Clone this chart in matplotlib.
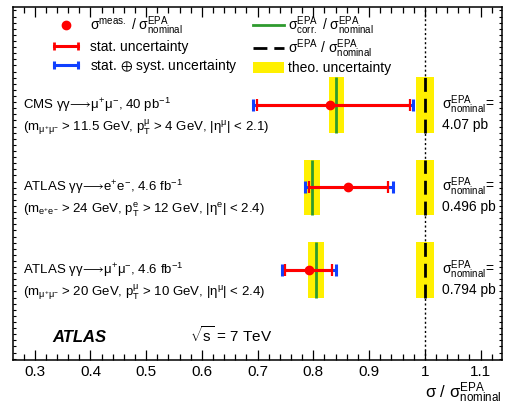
import matplotlib
matplotlib.use("Agg")
import matplotlib.pyplot as plt
from matplotlib.lines import Line2D
from matplotlib.patches import Patch
from matplotlib.legend_handler import HandlerLine2D
from matplotlib.ticker import MultipleLocator
import numpy as np

plt.rcParams['font.family'] = ['Liberation Sans', 'DejaVu Sans']
plt.rcParams['mathtext.fontset'] = 'custom'
plt.rcParams['mathtext.rm'] = 'Liberation Sans'
plt.rcParams['mathtext.it'] = 'Liberation Sans:italic'
plt.rcParams['mathtext.bf'] = 'Liberation Sans:bold'
plt.rcParams['mathtext.default'] = 'regular'

# rows, top to bottom
titles = [r'CMS $\gamma\gamma\!\longrightarrow\!\mu^{+}\mu^{-}$, 40 pb$^{-1}$',
          r'ATLAS $\gamma\gamma\!\longrightarrow\!e^{+}e^{-}$, 4.6 fb$^{-1}$',
          r'ATLAS $\gamma\gamma\!\longrightarrow\!\mu^{+}\mu^{-}$, 4.6 fb$^{-1}$']
cuts = [r'($m_{\mu^{+}\mu^{-}}$ > 11.5 GeV, $p_{T}^{\mu}$ > 4 GeV, $|\eta^{\mu}|$ < 2.1)',
        r'($m_{e^{+}e^{-}}$ > 24 GeV, $p_{T}^{e}$ > 12 GeV, $|\eta^{e}|$ < 2.4)',
        r'($m_{\mu^{+}\mu^{-}}$ > 20 GeV, $p_{T}^{\mu}$ > 10 GeV, $|\eta^{\mu}|$ < 2.4)']
xs_nominal = ['4.07 pb', '0.496 pb', '0.794 pb']

meas = np.array([0.830, 0.863, 0.792])
stat_lo = np.array([0.699, 0.793, 0.750])
stat_hi = np.array([0.974, 0.934, 0.834])
tot_lo = np.array([0.692, 0.785, 0.744])
tot_hi = np.array([0.979, 0.943, 0.840])
epa_corr = np.array([0.841, 0.798, 0.805])
epa_corr_unc = np.array([0.0135, 0.014, 0.014])
epa_nom = np.array([1.0, 1.0, 1.0])
epa_nom_unc = np.array([0.0166, 0.0166, 0.0166])

red = '#ff0000'
blue = '#1040ff'
green = '#2e9a2e'
yellow = '#fff000'

ypos = np.array([3.0, 2.0, 1.0])
hh = 0.335  # half height of bands

fig = plt.figure(figsize=(5.08, 4.07), dpi=100)
ax = fig.add_axes([13/508, 47/407, 488.7/508, 353.3/407])

ax.axvline(1.0, color='black', lw=1.0, ls=(0, (1.5, 1.8)), zorder=1)

# theory bands
ax.barh(ypos, 2*epa_corr_unc, left=epa_corr-epa_corr_unc, height=2*hh,
        color=yellow, lw=0, zorder=2)
ax.barh(ypos, 2*epa_nom_unc, left=epa_nom-epa_nom_unc, height=2*hh,
        color=yellow, lw=0, zorder=2)
ax.vlines(epa_corr, ypos-hh, ypos+hh, color=green, lw=2, zorder=3)
ax.vlines(epa_nom, ypos-hh, ypos+hh, color='black', lw=2,
          linestyles=[(0, (5, 2.5))], zorder=3)

# measurements
ax.errorbar(meas, ypos, xerr=[meas-tot_lo, tot_hi-meas], fmt='none',
            ecolor=blue, elinewidth=2.2, capsize=4.3, capthick=2.2, zorder=4)
ax.errorbar(meas, ypos, xerr=[meas-stat_lo, stat_hi-meas], fmt='none',
            ecolor=red, elinewidth=2.2, capsize=4.3, capthick=1.6, zorder=5)
ax.plot(meas, ypos, 'o', color=red, ms=6, zorder=6)

ax.set_xlim(0.261, 1.138)
ax.set_ylim(-0.09, 4.19)

ax.xaxis.set_minor_locator(MultipleLocator(0.02))
ax.set_xticks(np.arange(0.3, 1.15, 0.1))
ax.set_xticklabels(['0.3', '0.4', '0.5', '0.6', '0.7', '0.8', '0.9', '1', '1.1'])
ax.yaxis.set_major_locator(MultipleLocator(0.074))
ax.set_yticklabels([])
ax.tick_params(axis='x', which='major', direction='in', top=True, length=7.5,
               width=0.9, labelsize=11, pad=3.5)
ax.tick_params(axis='x', which='minor', direction='in', top=True, length=4,
               width=0.9)
ax.tick_params(axis='y', which='major', direction='in', right=True, length=2,
               width=0.8, labelleft=False)
for s in ax.spines.values():
    s.set_linewidth(1.1)

tr = ax.get_yaxis_transform()
for i in range(3):
    ax.text(0.0205, ypos[i]-0.048, titles[i], transform=tr, fontsize=9.5,
            va='baseline', ha='left')
    ax.text(0.0205, ypos[i]-0.315, cuts[i], transform=tr, fontsize=9.5,
            va='baseline', ha='left')
    ax.text(0.878, ypos[i]-0.048, r'$\sigma^{EPA}_{nominal}$=', transform=tr,
            fontsize=10, va='baseline', ha='left')
    ax.text(0.878, ypos[i]-0.29, xs_nominal[i], transform=tr, fontsize=10,
            va='baseline', ha='left')

ax.text(0.080, 0.052, 'ATLAS', transform=ax.transAxes, fontsize=12,
        fontweight='bold', fontstyle='italic', va='baseline')
ax.text(0.362, 0.052, r'$\sqrt{s}$ = 7 TeV', transform=ax.transAxes,
        fontsize=11, va='baseline')
ax.text(1.0, -0.1076, r'$\sigma$ / $\sigma^{EPA}_{nominal}$',
        transform=ax.transAxes, fontsize=12, va='baseline', ha='right')

# legend, two columns
h_dot = Line2D([], [], marker='o', color=red, ls='none', ms=6)
h_stat = Line2D([], [], color=red, lw=2.2, marker='|', ms=6, mew=2)
h_tot = Line2D([], [], color=blue, lw=2.2, marker='|', ms=6, mew=2.2)
h_corr = Line2D([], [], color=green, lw=2)
h_nom = Line2D([], [], color='black', lw=2, ls=(0, (5, 2.5)))
h_theo = Patch(facecolor=yellow, edgecolor='none')

hm = {h_stat: HandlerLine2D(numpoints=2), h_tot: HandlerLine2D(numpoints=2),
      h_dot: HandlerLine2D(numpoints=1)}
leg1 = ax.legend([h_dot, h_stat, h_tot],
                 [r'$\sigma^{meas.}$ / $\sigma^{EPA}_{nominal}$',
                  'stat. uncertainty',
                  r'stat. $\oplus$ syst. uncertainty'],
                 loc='upper left', bbox_to_anchor=(0.0757, 0.978),
                 frameon=False, fontsize=10, borderpad=0, borderaxespad=0,
                 handlelength=2.3, handletextpad=0.6, labelspacing=0.2,
                 handler_map=hm)
ax.add_artist(leg1)
ax.legend([h_corr, h_nom, h_theo],
          [r'$\sigma^{EPA}_{corr.}$ / $\sigma^{EPA}_{nominal}$',
           r'$\sigma^{EPA}$ / $\sigma^{EPA}_{nominal}$',
           'theo. uncertainty'],
          loc='upper left', bbox_to_anchor=(0.491, 0.978),
          frameon=False, fontsize=10, borderpad=0, borderaxespad=0,
          handlelength=2.2, handleheight=0.9, handletextpad=0.3,
          labelspacing=0.05)

fig.savefig('out.png', dpi=100)
